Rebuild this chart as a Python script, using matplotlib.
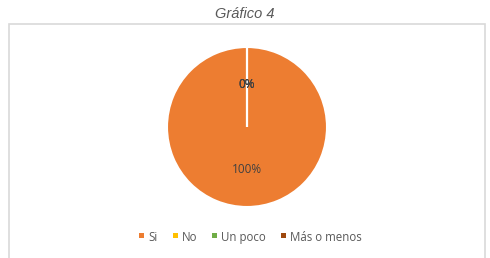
import matplotlib

matplotlib.use("Agg")

import matplotlib.pyplot as plt
from matplotlib.patches import Rectangle

categories = ["Si", "No", "Un poco", "Más o menos"]
values = [100, 0, 0, 0]
colors = ["#ED7D31", "#FFC000", "#70AD47", "#9E480E"]
title = "Gráfico 4"


def draw_legend(fig, labels, swatch_colors, center_x, y, fontsize):
    # manual legend so every label sits on the same baseline
    renderer = fig.canvas.get_renderer()
    fig_w = fig.get_figwidth() * fig.dpi
    fig_h = fig.get_figheight() * fig.dpi
    box, gap, item_gap = 5, 4, 15
    widths = []
    for label in labels:
        t = fig.text(0, 0, label, fontsize=fontsize, family="Open Sans")
        widths.append(t.get_window_extent(renderer).width)
        t.remove()
    total = sum(box + gap + w for w in widths) + item_gap * (len(labels) - 1)
    x = center_x - total / 2
    for label, color, w in zip(labels, swatch_colors, widths):
        fig.patches.append(Rectangle(
            (x / fig_w, (fig_h - y - 1) / fig_h), box / fig_w, box / fig_h,
            transform=fig.transFigure, facecolor=color, edgecolor="none",
        ))
        fig.text((x + box + gap) / fig_w, (fig_h - y - 4) / fig_h, label,
                 fontsize=fontsize, family="Open Sans", color="#595959",
                 ha="left", va="baseline")
        x += box + gap + w + item_gap


def main():
    fig = plt.figure(figsize=(4.9, 2.58), dpi=100)
    fig.patch.set_facecolor("white")

    # chart frame (light gray border, open at the bottom edge of the image)
    frame = Rectangle(
        (8.5 / 490, -0.01), (485 - 8.5) / 490, (258 - 24.5) / 258 + 0.01,
        transform=fig.transFigure, fill=False, edgecolor="#D9D9D9", linewidth=1.2,
    )
    fig.patches.append(frame)

    fig.text(0.5, 1 - 14 / 258, title, ha="center", va="center",
             fontsize=10.5, style="italic", color="#595959", family="Liberation Sans")

    # pie centred at (247, 127), radius ~80 px
    r = 80
    cx, cy = 247, 127
    ax = fig.add_axes([(cx - r) / 490, 1 - (cy + r) / 258, 2 * r / 490, 2 * r / 258])
    ax.pie(
        values,
        colors=colors,
        startangle=90,
        counterclock=False,
        autopct="%1.0f%%",
        pctdistance=0.53,
        wedgeprops={"edgecolor": "white", "linewidth": 1.5},
        textprops={"fontsize": 8.5, "color": "#404040", "family": "Open Sans"},
    )
    ax.set_xlim(-1, 1)
    ax.set_ylim(-1, 1)
    ax.set_aspect("equal")

    draw_legend(fig, categories, colors, 250.5, 237, 8.3)

    fig.savefig("out.png", dpi=100)
    plt.close(fig)


if __name__ == "__main__":
    main()
